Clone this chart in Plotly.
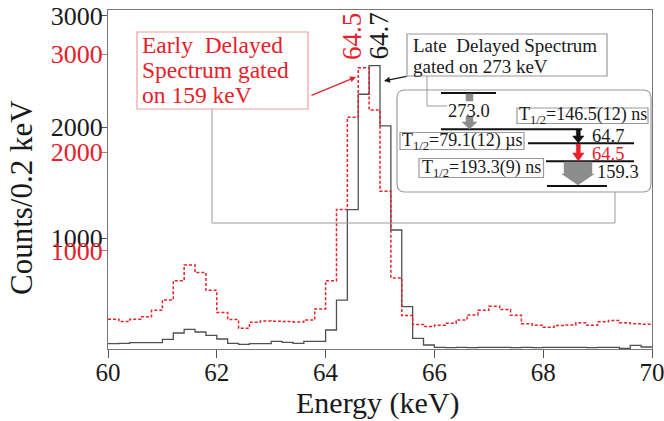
import numpy as np
import plotly.graph_objects as go

# ---------------- data ----------------
bin_width = 0.2
x_start = 60.0
# Late delayed spectrum gated on 273 keV (black, left black axis)
late_counts = [48, 51, 57, 57, 57, 87, 144, 177, 153, 123,
               90, 51, 42, 48, 48, 69, 60, 51, 69, 69,
               171, 441, 1255, 2295, 2552, 2010, 1072, 381, 96, 36,
               15, 12, 15, 12, 15, 15, 15, 12, 15, 12,
               15, 15, 15, 15, 12, 15, 15, 6, 33, 18]
# Early delayed spectrum gated on 159 keV (red, red axis)
early_counts = [303, 279, 303, 327, 394, 499, 695, 855, 777, 597,
                371, 300, 211, 272, 286, 282, 279, 275, 296, 408,
                695, 1420, 2357, 2861, 2431, 1605, 723, 340, 249, 228,
                242, 262, 296, 347, 394, 435, 401, 343, 256, 242,
                221, 239, 245, 266, 242, 276, 289, 266, 256, 252]
x_ticks = [60, 62, 64, 66, 68, 70]
y_ticks_black = [1000, 2000, 3000]
y_ticks_red = [1000, 2000, 3000]

edges = x_start + bin_width * np.arange(len(late_counts) + 1)
late_y = list(late_counts) + [late_counts[-1]]
early_y = list(early_counts) + [early_counts[-1]]

W, H = 664, 421
L, R, T, B = 108, 652, 10, 349
FONT = "Liberation Serif"
RED = "#e8202a"
GRAY = "#9a9a9a"

def px(X):
    return (X - L) / (R - L)

def py(Y):
    return (B - Y) / (B - T)

fig = go.Figure()
fig.add_trace(go.Scatter(x=edges, y=early_y, mode="lines", line_shape="hv",
                         line=dict(color=RED, width=1.5, dash="3px,2px"),
                         yaxis="y2", showlegend=False, hoverinfo="skip"))
fig.add_trace(go.Scatter(x=edges, y=late_y, mode="lines", line_shape="hv",
                         line=dict(color="#505050", width=1.3),
                         yaxis="y", showlegend=False, hoverinfo="skip"))

shapes = []
annos = []

def line(x0, y0, x1, y1, color=GRAY, width=1):
    shapes.append(dict(type="line", xref="paper", yref="paper",
                       x0=px(x0), y0=py(y0), x1=px(x1), y1=py(y1),
                       line=dict(color=color, width=width), layer="above"))

def rect(x0, y0, x1, y1, color=GRAY, width=1.2):
    shapes.append(dict(type="rect", xref="paper", yref="paper",
                       x0=px(x0), y0=py(y0), x1=px(x1), y1=py(y1),
                       line=dict(color=color, width=width), fillcolor="white",
                       layer="above"))

def poly(pts, color):
    d = "M " + " L ".join(f"{px(a):.5f},{py(b):.5f}" for a, b in pts) + " Z"
    shapes.append(dict(type="path", xref="paper", yref="paper", path=d,
                       fillcolor=color, line=dict(color=color, width=0.5),
                       layer="above"))

def text(X, Y, s, size, color="#1a1a1a", anchor="left", angle=0):
    annos.append(dict(x=px(X), y=py(Y), xref="paper", yref="paper", text=s,
                      showarrow=False, xanchor=anchor, yanchor="middle",
                      textangle=angle,
                      font=dict(family=FONT, size=size, color=color)))

# bracket connecting red box to the inset
line(212, 109, 212, 223)
line(212, 223, 615, 223)
line(615, 223, 615, 192)
# line from late box to 273 label
line(427, 76, 427, 106)
line(427, 106, 447, 106)

# inset rounded box
r = 8
x0, y0, x1, y1 = 397, 90, 651, 192
d = (f"M {px(x0+r)},{py(y0)} L {px(x1-r)},{py(y0)} Q {px(x1)},{py(y0)} {px(x1)},{py(y0+r)} "
     f"L {px(x1)},{py(y1-r)} Q {px(x1)},{py(y1)} {px(x1-r)},{py(y1)} "
     f"L {px(x0+r)},{py(y1)} Q {px(x0)},{py(y1)} {px(x0)},{py(y1-r)} "
     f"L {px(x0)},{py(y0+r)} Q {px(x0)},{py(y0)} {px(x0+r)},{py(y0)} Z")
shapes.append(dict(type="path", xref="paper", yref="paper", path=d,
                   line=dict(color=GRAY, width=1.2), fillcolor="rgba(0,0,0,0)",
                   layer="above"))

# red label box
rect(137, 32, 308, 109, color="#f0a0a0", width=1.2)
text(140, 45, "Early\u00a0 Delayed", 23.5, RED)
text(140, 70, "Spectrum gated", 23.5, RED)
text(140, 95, "on 159 keV", 23.5, RED)

# late label box
rect(407, 34, 607, 76, color=GRAY, width=1.2)
text(411, 45, "Late\u00a0 Delayed Spectrum", 19)
text(411, 66, "gated on 273 keV", 19)

# arrows to peaks
annos.append(dict(x=px(356), y=py(77), xref="paper", yref="paper", ax=-46, ay=19,
                  text="", showarrow=True, arrowhead=2, arrowsize=1, arrowwidth=1.2,
                  arrowcolor=RED))
annos.append(dict(x=px(384), y=py(81), xref="paper", yref="paper", ax=24, ay=-5,
                  text="", showarrow=True, arrowhead=2, arrowsize=1, arrowwidth=1.2,
                  arrowcolor="#1a1a1a"))

# peak labels
text(352, 37, "64.5", 27, RED, anchor="center", angle=-90)
text(378.5, 36, "64.7", 27, "#1a1a1a", anchor="center", angle=-90)

# level scheme
line(441, 93, 496, 93, "#111", 2)
line(441, 129.3, 582, 129.3, "#111", 2)
line(528, 143.3, 634, 143.3, "#111", 2)
line(546, 161.3, 634, 161.3, "#111", 2)
line(547, 186, 607, 186, "#111", 2)
# 273 gray arrow
poly([(466, 94), (473, 94), (473, 101), (466, 101)], "#8c8c8c")
poly([(466, 116), (473, 116), (473, 122), (477, 122), (469.5, 129), (462, 122), (466, 122)], "#8c8c8c")
text(469, 110.5, "273.0", 18.5, anchor="center")
# 64.7 black arrow
poly([(576.3, 130), (580.3, 130), (580.3, 136), (584, 136), (578.3, 143), (572.6, 136), (576.3, 136)], "#111")
text(590, 135.5, "64.7", 18.5)
# 64.5 red arrow
poly([(576.3, 144), (580.3, 144), (580.3, 153), (584, 153), (578.3, 161), (572.6, 153), (576.3, 153)], RED)
text(590, 153.5, "64.5", 18.5, RED)
# 159.3 gray big arrow
poly([(564, 162), (592, 162), (592, 174), (594, 174), (578, 185), (562, 174), (564, 174)], "#8c8c8c")
text(595, 172, "159.3", 18.5)

# half-life boxes
rect(517, 108, 648, 123.5)
text(582.5, 116, "T<sub>1/2</sub>=146.5(12) ns", 18, anchor="center")
rect(400, 132.5, 524, 149.5)
text(462, 141, "T<sub>1/2</sub>=79.1(12) µs", 18, anchor="center")
rect(419, 158.5, 543.5, 177.5)
text(481, 168, "T<sub>1/2</sub>=193.3(9) ns", 18, anchor="center")

# axis titles
text(378, 403, "Energy (keV)", 30, anchor="center")
annos.append(dict(x=px(21), y=py(198), xref="paper", yref="paper",
                  text="Counts/0.2 keV", showarrow=False, xanchor="center",
                  yanchor="middle", textangle=-90,
                  font=dict(family=FONT, size=31, color="#1a1a1a")))

fig.update_layout(
    width=W, height=H,
    margin=dict(l=L, r=W - R, t=T, b=H - B, pad=0, autoexpand=False),
    plot_bgcolor="white", paper_bgcolor="white",
    shapes=shapes, annotations=annos,
    xaxis=dict(range=[60, 70], tickvals=x_ticks, ticks="outside", ticklen=8,
               tickcolor="#555", showline=True, linecolor="#777", linewidth=1,
               mirror=True, showgrid=False, zeroline=False, automargin=False,
               ticklabeloverflow="allow", ticklabelstandoff=-7,
               tickfont=dict(family=FONT, size=25, color="#1a1a1a")),
    yaxis=dict(range=[0, 3054], tickvals=y_ticks_black, ticks="outside", ticklen=7,
               tickcolor="#555", showline=True, linecolor="#777", linewidth=1,
               mirror=True, showgrid=False, zeroline=False, automargin=False,
               ticklabeloverflow="allow", ticklabelstandoff=-8,
               tickfont=dict(family=FONT, size=26, color="#1a1a1a")),
    yaxis2=dict(range=[0, 3448], tickvals=y_ticks_red, ticks="outside", ticklen=7,
                tickcolor="#b08070", overlaying="y", side="left", anchor="x",
                showline=False, showgrid=False, zeroline=False, automargin=False,
                ticklabeloverflow="allow", ticklabelstandoff=-8,
                tickfont=dict(family=FONT, size=26, color=RED)),
)

fig.write_html("out.html", config={"displayModeBar": False},
               post_script="document.body.style.margin='0';document.body.style.padding='0';")
